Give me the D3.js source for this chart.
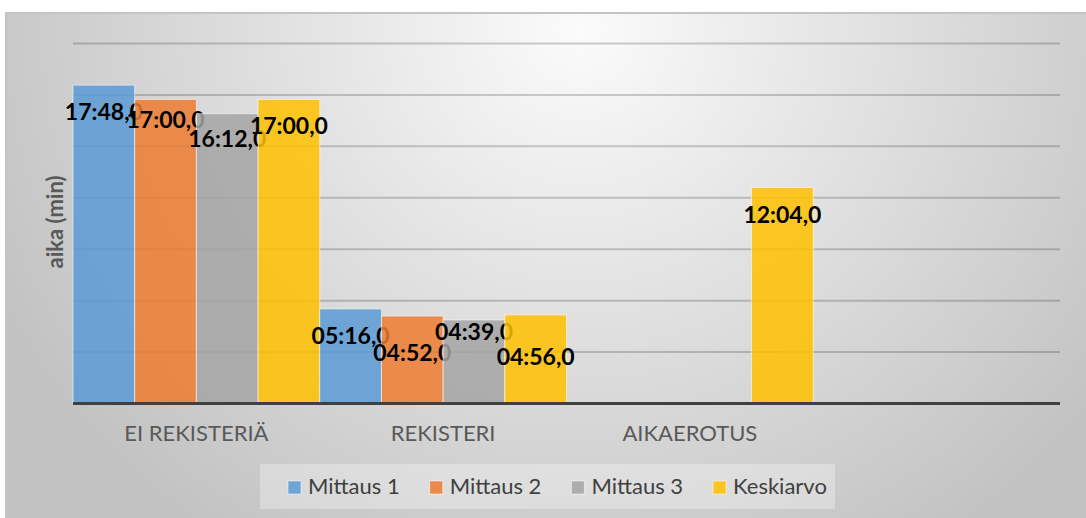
<!DOCTYPE html>
<html>
<head>
<meta charset="utf-8">
<script src="https://cdn.jsdelivr.net/npm/d3@7"></script>
<style>
  html, body { margin: 0; padding: 0; background: #fff; }
  svg { display: block; }
</style>
</head>
<body>
<svg id="container" width="1086" height="518"></svg>
<script>
var categories = ["EI REKISTERIÄ", "REKISTERI", "AIKAEROTUS", ""];
var seriesNames = ["Mittaus 1", "Mittaus 2", "Mittaus 3", "Keskiarvo"];
// times in seconds
var mittaus1 = [1068, 316, null, null];
var mittaus2 = [1020, 292, null, null];
var mittaus3 = [972, 279, null, null];
var keskiarvo = [1020, 296, 724, null];
// excel axis: major unit 0.002 days, max 0.014 days
var gridStep = 172.8;
var yMax = 1209.6;

var colors = ["#5b9bd5", "#ed7d31", "#a5a5a5", "#ffc000"];
// data labels were dragged by hand in the original, px below bar top
var labelDrop = [[35, 29, 33, 35], [35, 45, 20, 50], [0, 0, 0, 35], [0, 0, 0, 0]];

var allSeries = [mittaus1, mittaus2, mittaus3, keskiarvo];

var fmt = function(s) {
  var m = Math.floor(s / 60), sec = s % 60;
  return (m < 10 ? "0" : "") + m + ":" + (sec < 10 ? "0" : "") + sec + ",0";
};

var svg = d3.select("#container");

var defs = svg.append("defs");
var grad = defs.append("radialGradient")
  .attr("id", "bg")
  .attr("gradientUnits", "userSpaceOnUse")
  .attr("cx", 580).attr("cy", 30).attr("r", 650)
  .attr("gradientTransform", "translate(580,30) scale(1,0.95) translate(-580,-30)");
grad.append("stop").attr("offset", "0%").attr("stop-color", "#fbfbfb");
grad.append("stop").attr("offset", "100%").attr("stop-color", "#c2c2c2");

svg.append("rect")
  .attr("x", 6).attr("y", 13)
  .attr("width", 1090).attr("height", 520)
  .attr("fill", "url(#bg)")
  .attr("stroke", "#c4c4c4")
  .attr("stroke-width", 2);

var plotLeft = 73, plotRight = 1060, plotTop = 43, plotBase = 403;

var x0 = d3.scaleBand().domain(categories).range([plotLeft, plotRight]).padding(0);
var x1 = d3.scaleBand().domain(seriesNames).range([0, x0.bandwidth()]).padding(0);
var y = d3.scaleLinear().domain([0, yMax]).range([plotBase, plotTop]);

// gridlines
var grid = svg.append("g")
  .attr("transform", "translate(" + plotLeft + ",0)")
  .call(d3.axisLeft(y)
    .tickValues(d3.range(1, 8).map(function(i) { return i * gridStep; }))
    .tickSize(-(plotRight - plotLeft))
    .tickFormat(""));
grid.select(".domain").remove();
grid.selectAll(".tick line")
  .attr("stroke", "#000")
  .attr("stroke-opacity", 0.19)
  .attr("stroke-width", 2);

// bars
var rows = [];
categories.forEach(function(c, ci) {
  seriesNames.forEach(function(s, si) {
    var v = allSeries[si][ci];
    if (v != null) rows.push({cat: c, ci: ci, series: s, si: si, value: v});
  });
});

var bar = svg.selectAll(".bar")
  .data(rows)
  .enter()
  .append("g")
  .attr("class", "bar")
  .attr("transform", function(d) { return "translate(" + (x0(d.cat) + x1(d.series)) + ",0)"; });

bar.append("rect")
  .attr("x", 0)
  .attr("y", function(d) { return y(d.value); })
  .attr("width", x1.bandwidth())
  .attr("height", function(d) { return plotBase - y(d.value); })
  .attr("fill", function(d) { return colors[d.si]; })
  .attr("fill-opacity", 0.85)
  .attr("stroke", "#fff")
  .attr("stroke-opacity", 0.55)
  .attr("stroke-width", 1);

// axis line
svg.append("line")
  .attr("x1", plotLeft).attr("x2", plotRight)
  .attr("y1", y(0) + 0.5).attr("y2", y(0) + 0.5)
  .attr("stroke", "#404040")
  .attr("stroke-width", 3);

// data labels
bar.append("text")
  .attr("x", x1.bandwidth() / 2)
  .attr("y", function(d) { return y(d.value) + labelDrop[d.ci][d.si]; })
  .attr("text-anchor", "middle")
  .style("font-family", "Lato, 'Open Sans', sans-serif")
  .style("font-weight", "bold")
  .style("font-size", "23px")
  .style("fill", "#000")
  .text(function(d) { return fmt(d.value); });

// category axis
var xAxis = svg.append("g")
  .attr("transform", "translate(0," + plotBase + ")")
  .call(d3.axisBottom(x0).tickSize(0));
xAxis.select(".domain").remove();
xAxis.selectAll("text")
  .attr("y", 38)
  .attr("dy", 0)
  .style("font-family", "'Liberation Sans Narrow', Lato, sans-serif")
  .style("font-size", "22px")
  .style("fill", "#595959");

// y title
svg.append("text")
  .attr("transform", "translate(63,222) rotate(-90)")
  .attr("text-anchor", "middle")
  .style("font-family", "Lato, sans-serif")
  .style("font-weight", "bold")
  .style("font-size", "22px")
  .style("fill", "#595959")
  .text("aika (min)");

// legend
svg.append("rect")
  .attr("x", 260).attr("y", 464)
  .attr("width", 575).attr("height", 45)
  .attr("fill", "#fff")
  .attr("fill-opacity", 0.3);

var lx = 288;
seriesNames.forEach(function(s, i) {
  var g = svg.append("g").attr("transform", "translate(" + lx + ",0)");
  g.append("rect")
    .attr("x", 0).attr("y", 481)
    .attr("width", 13).attr("height", 13)
    .attr("fill", colors[i])
    .attr("fill-opacity", 0.85)
    .attr("stroke", "#fff")
    .attr("stroke-opacity", 0.5);
  var t = g.append("text")
    .attr("x", 20).attr("y", 494)
    .style("font-family", "Lato, sans-serif")
    .style("font-size", "22px")
    .style("fill", "#404040")
    .text(s);
  lx += 20 + t.node().getComputedTextLength() + 30;
});
</script>
</body>
</html>
